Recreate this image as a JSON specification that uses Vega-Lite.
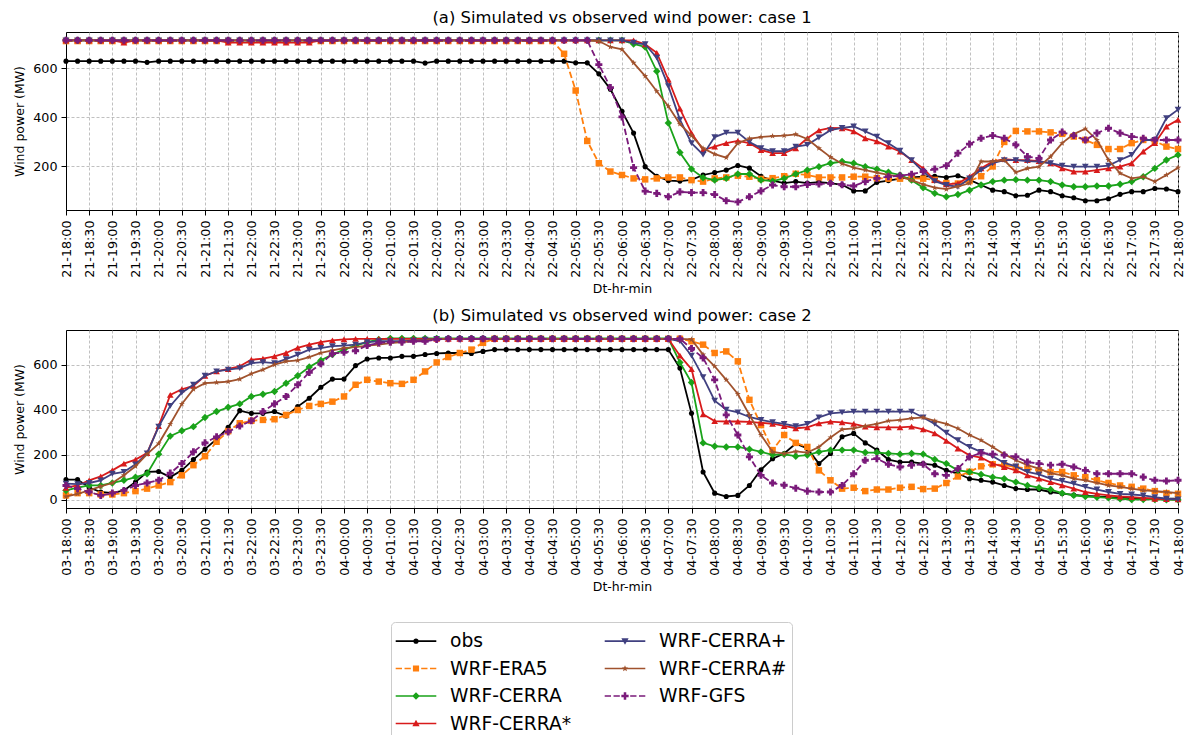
{"$schema":"https://vega.github.io/schema/vega-lite/v6.json","background":"white","padding":{"left":13,"top":9,"right":4,"bottom":0},
"datasets":{"names":[{"k":"o","series":"obs"},{"k":"e","series":"WRF-ERA5"},{"k":"c","series":"WRF-CERRA"},{"k":"s","series":"WRF-CERRA*"},{"k":"q","series":"WRF-CERRA+"},{"k":"h","series":"WRF-CERRA#"},{"k":"g","series":"WRF-GFS"}],
"a":[
{"i":0,"o":630,"e":712,"c":715,"s":715,"q":715,"h":715,"g":715},
{"i":1,"o":630,"e":712,"c":715,"s":715,"q":715,"h":715,"g":715},
{"i":2,"o":630,"e":712,"c":715,"s":715,"q":715,"h":715,"g":715},
{"i":3,"o":630,"e":712,"c":715,"s":715,"q":715,"h":715,"g":715},
{"i":4,"o":630,"e":712,"c":715,"s":715,"q":715,"h":715,"g":715},
{"i":5,"o":630,"e":712,"c":715,"s":706,"q":715,"h":715,"g":715},
{"i":6,"o":630,"e":712,"c":715,"s":715,"q":715,"h":715,"g":715},
{"i":7,"o":625,"e":712,"c":715,"s":715,"q":715,"h":715,"g":715},
{"i":8,"o":630,"e":712,"c":715,"s":715,"q":715,"h":715,"g":715},
{"i":9,"o":630,"e":712,"c":715,"s":715,"q":715,"h":715,"g":715},
{"i":10,"o":630,"e":712,"c":715,"s":715,"q":715,"h":715,"g":715},
{"i":11,"o":630,"e":712,"c":715,"s":715,"q":715,"h":715,"g":715},
{"i":12,"o":630,"e":712,"c":715,"s":715,"q":715,"h":715,"g":715},
{"i":13,"o":630,"e":712,"c":715,"s":715,"q":715,"h":715,"g":715},
{"i":14,"o":630,"e":712,"c":715,"s":706,"q":715,"h":715,"g":715},
{"i":15,"o":630,"e":712,"c":715,"s":706,"q":715,"h":715,"g":715},
{"i":16,"o":630,"e":712,"c":715,"s":706,"q":715,"h":715,"g":715},
{"i":17,"o":630,"e":712,"c":715,"s":706,"q":715,"h":715,"g":715},
{"i":18,"o":630,"e":712,"c":715,"s":706,"q":715,"h":715,"g":715},
{"i":19,"o":630,"e":712,"c":715,"s":706,"q":715,"h":715,"g":715},
{"i":20,"o":630,"e":712,"c":715,"s":706,"q":715,"h":715,"g":715},
{"i":21,"o":630,"e":712,"c":715,"s":706,"q":715,"h":715,"g":715},
{"i":22,"o":630,"e":712,"c":715,"s":715,"q":715,"h":715,"g":715},
{"i":23,"o":630,"e":712,"c":715,"s":715,"q":715,"h":715,"g":715},
{"i":24,"o":630,"e":712,"c":715,"s":715,"q":715,"h":715,"g":715},
{"i":25,"o":630,"e":712,"c":715,"s":715,"q":715,"h":715,"g":715},
{"i":26,"o":630,"e":712,"c":715,"s":715,"q":715,"h":715,"g":715},
{"i":27,"o":630,"e":712,"c":715,"s":715,"q":715,"h":715,"g":715},
{"i":28,"o":630,"e":712,"c":715,"s":715,"q":715,"h":715,"g":715},
{"i":29,"o":630,"e":712,"c":715,"s":715,"q":715,"h":715,"g":715},
{"i":30,"o":630,"e":712,"c":715,"s":715,"q":715,"h":715,"g":715},
{"i":31,"o":622,"e":712,"c":715,"s":715,"q":715,"h":715,"g":715},
{"i":32,"o":630,"e":712,"c":715,"s":715,"q":715,"h":715,"g":715},
{"i":33,"o":630,"e":712,"c":715,"s":715,"q":715,"h":715,"g":715},
{"i":34,"o":630,"e":712,"c":715,"s":715,"q":715,"h":715,"g":715},
{"i":35,"o":630,"e":712,"c":715,"s":715,"q":715,"h":715,"g":715},
{"i":36,"o":630,"e":712,"c":715,"s":715,"q":715,"h":715,"g":715},
{"i":37,"o":630,"e":712,"c":715,"s":715,"q":715,"h":715,"g":715},
{"i":38,"o":630,"e":712,"c":715,"s":715,"q":715,"h":715,"g":715},
{"i":39,"o":630,"e":712,"c":715,"s":715,"q":715,"h":715,"g":715},
{"i":40,"o":630,"e":712,"c":715,"s":715,"q":715,"h":715,"g":715},
{"i":41,"o":630,"e":712,"c":715,"s":715,"q":715,"h":715,"g":715},
{"i":42,"o":630,"e":712,"c":715,"s":715,"q":715,"h":715,"g":715},
{"i":43,"o":630,"e":660,"c":715,"s":715,"q":715,"h":715,"g":715},
{"i":44,"o":623,"e":510,"c":715,"s":715,"q":715,"h":715,"g":715},
{"i":45,"o":623,"e":304,"c":715,"s":715,"q":715,"h":715,"g":715},
{"i":46,"o":578,"e":213,"c":715,"s":715,"q":715,"h":712,"g":616},
{"i":47,"o":515,"e":179,"c":715,"s":715,"q":715,"h":688,"g":522},
{"i":48,"o":425,"e":165,"c":715,"s":715,"q":715,"h":678,"g":402},
{"i":49,"o":336,"e":151,"c":700,"s":715,"q":705,"h":623,"g":195},
{"i":50,"o":199,"e":147,"c":688,"s":699,"q":699,"h":569,"g":99},
{"i":51,"o":160,"e":151,"c":589,"s":664,"q":644,"h":507,"g":90},
{"i":52,"o":142,"e":155,"c":377,"s":555,"q":528,"h":446,"g":76},
{"i":53,"o":140,"e":155,"c":257,"s":436,"q":391,"h":373,"g":96},
{"i":54,"o":145,"e":144,"c":189,"s":336,"q":295,"h":326,"g":93},
{"i":55,"o":165,"e":138,"c":154,"s":267,"q":248,"h":274,"g":93},
{"i":56,"o":175,"e":151,"c":144,"s":281,"q":320,"h":250,"g":85},
{"i":57,"o":185,"e":155,"c":151,"s":295,"q":338,"h":236,"g":60},
{"i":58,"o":204,"e":162,"c":169,"s":304,"q":338,"h":295,"g":55},
{"i":59,"o":193,"e":158,"c":169,"s":295,"q":300,"h":314,"g":76},
{"i":60,"o":160,"e":149,"c":144,"s":267,"q":275,"h":320,"g":100},
{"i":61,"o":142,"e":152,"c":140,"s":254,"q":262,"h":324,"g":124},
{"i":62,"o":132,"e":160,"c":151,"s":254,"q":262,"h":326,"g":117},
{"i":63,"o":138,"e":170,"c":169,"s":274,"q":281,"h":331,"g":117},
{"i":64,"o":132,"e":165,"c":185,"s":315,"q":288,"h":312,"g":126},
{"i":65,"o":136,"e":155,"c":199,"s":347,"q":318,"h":274,"g":128},
{"i":66,"o":132,"e":155,"c":213,"s":357,"q":348,"h":238,"g":131},
{"i":67,"o":125,"e":155,"c":220,"s":356,"q":357,"h":211,"g":125},
{"i":68,"o":100,"e":158,"c":213,"s":343,"q":363,"h":195,"g":120},
{"i":69,"o":100,"e":158,"c":199,"s":315,"q":343,"h":185,"g":138},
{"i":70,"o":135,"e":152,"c":189,"s":302,"q":322,"h":175,"g":151},
{"i":71,"o":142,"e":150,"c":176,"s":281,"q":295,"h":165,"g":158},
{"i":72,"o":150,"e":150,"c":165,"s":261,"q":264,"h":158,"g":162},
{"i":73,"o":155,"e":152,"c":144,"s":226,"q":226,"h":144,"g":168},
{"i":74,"o":158,"e":150,"c":113,"s":192,"q":179,"h":127,"g":179},
{"i":75,"o":160,"e":145,"c":90,"s":144,"q":140,"h":113,"g":189},
{"i":76,"o":155,"e":132,"c":76,"s":127,"q":124,"h":107,"g":203},
{"i":77,"o":162,"e":130,"c":85,"s":131,"q":117,"h":118,"g":254},
{"i":78,"o":145,"e":140,"c":103,"s":158,"q":151,"h":131,"g":291},
{"i":79,"o":124,"e":160,"c":124,"s":192,"q":185,"h":220,"g":315},
{"i":80,"o":103,"e":200,"c":138,"s":220,"q":213,"h":220,"g":326},
{"i":81,"o":97,"e":300,"c":144,"s":230,"q":226,"h":226,"g":315},
{"i":82,"o":80,"e":345,"c":146,"s":226,"q":226,"h":176,"g":288},
{"i":83,"o":82,"e":343,"c":144,"s":226,"q":222,"h":192,"g":240},
{"i":84,"o":103,"e":343,"c":144,"s":222,"q":220,"h":199,"g":233},
{"i":85,"o":97,"e":339,"c":138,"s":213,"q":213,"h":240,"g":308},
{"i":86,"o":80,"e":333,"c":124,"s":192,"q":203,"h":295,"g":340},
{"i":87,"o":72,"e":322,"c":117,"s":179,"q":199,"h":332,"g":326},
{"i":88,"o":60,"e":308,"c":117,"s":179,"q":199,"h":354,"g":308},
{"i":89,"o":60,"e":288,"c":120,"s":185,"q":199,"h":308,"g":336},
{"i":90,"o":68,"e":271,"c":120,"s":192,"q":203,"h":226,"g":356},
{"i":91,"o":86,"e":271,"c":127,"s":199,"q":226,"h":172,"g":336},
{"i":92,"o":97,"e":295,"c":138,"s":213,"q":247,"h":151,"g":322},
{"i":93,"o":97,"e":308,"c":158,"s":261,"q":308,"h":158,"g":315},
{"i":94,"o":110,"e":304,"c":192,"s":295,"q":308,"h":138,"g":308},
{"i":95,"o":108,"e":281,"c":226,"s":363,"q":397,"h":165,"g":308},
{"i":96,"o":97,"e":271,"c":247,"s":390,"q":432,"h":195,"g":308}],
"b":[
{"i":0,"o":90,"e":20,"c":42,"s":54,"q":72,"h":15,"g":64},
{"i":1,"o":90,"e":30,"c":54,"s":64,"q":70,"h":27,"g":50},
{"i":2,"o":55,"e":30,"c":64,"s":87,"q":75,"h":42,"g":35},
{"i":3,"o":35,"e":24,"c":64,"s":104,"q":87,"h":60,"g":20},
{"i":4,"o":30,"e":24,"c":75,"s":131,"q":116,"h":75,"g":30},
{"i":5,"o":42,"e":30,"c":87,"s":161,"q":124,"h":109,"g":42},
{"i":6,"o":79,"e":39,"c":101,"s":179,"q":158,"h":149,"g":64},
{"i":7,"o":124,"e":50,"c":116,"s":208,"q":206,"h":203,"g":75},
{"i":8,"o":126,"e":64,"c":203,"s":328,"q":325,"h":250,"g":87},
{"i":9,"o":101,"e":79,"c":283,"s":466,"q":417,"h":337,"g":119},
{"i":10,"o":131,"e":109,"c":307,"s":491,"q":476,"h":426,"g":161},
{"i":11,"o":179,"e":154,"c":325,"s":506,"q":511,"h":491,"g":213},
{"i":12,"o":225,"e":194,"c":366,"s":551,"q":551,"h":518,"g":253},
{"i":13,"o":270,"e":258,"c":392,"s":570,"q":570,"h":521,"g":280},
{"i":14,"o":322,"e":305,"c":411,"s":581,"q":578,"h":525,"g":302},
{"i":15,"o":396,"e":340,"c":426,"s":593,"q":585,"h":536,"g":328},
{"i":16,"o":384,"e":351,"c":459,"s":622,"q":607,"h":560,"g":351},
{"i":17,"o":384,"e":355,"c":469,"s":627,"q":611,"h":578,"g":392},
{"i":18,"o":392,"e":358,"c":481,"s":637,"q":607,"h":600,"g":426},
{"i":19,"o":372,"e":377,"c":518,"s":652,"q":625,"h":615,"g":459},
{"i":20,"o":414,"e":399,"c":551,"s":675,"q":645,"h":619,"g":511},
{"i":21,"o":451,"e":417,"c":590,"s":689,"q":667,"h":634,"g":566},
{"i":22,"o":500,"e":426,"c":619,"s":700,"q":674,"h":652,"g":604},
{"i":23,"o":536,"e":436,"c":645,"s":708,"q":682,"h":664,"g":649},
{"i":24,"o":536,"e":459,"c":667,"s":712,"q":685,"h":674,"g":655},
{"i":25,"o":596,"e":511,"c":685,"s":715,"q":689,"h":678,"g":662},
{"i":26,"o":625,"e":533,"c":700,"s":715,"q":700,"h":685,"g":685},
{"i":27,"o":630,"e":525,"c":712,"s":715,"q":704,"h":689,"g":697},
{"i":28,"o":630,"e":518,"c":717,"s":715,"q":704,"h":696,"g":700},
{"i":29,"o":637,"e":515,"c":717,"s":715,"q":704,"h":700,"g":700},
{"i":30,"o":637,"e":533,"c":717,"s":715,"q":707,"h":704,"g":704},
{"i":31,"o":645,"e":570,"c":717,"s":715,"q":711,"h":709,"g":704},
{"i":32,"o":650,"e":610,"c":717,"s":715,"q":715,"h":715,"g":712},
{"i":33,"o":652,"e":634,"c":717,"s":715,"q":715,"h":715,"g":715},
{"i":34,"o":652,"e":652,"c":717,"s":715,"q":715,"h":715,"g":715},
{"i":35,"o":650,"e":667,"c":717,"s":715,"q":715,"h":715,"g":715},
{"i":36,"o":659,"e":697,"c":717,"s":715,"q":715,"h":715,"g":715},
{"i":37,"o":667,"e":715,"c":717,"s":715,"q":715,"h":715,"g":715},
{"i":38,"o":667,"e":715,"c":717,"s":715,"q":715,"h":715,"g":715},
{"i":39,"o":667,"e":715,"c":717,"s":715,"q":715,"h":715,"g":715},
{"i":40,"o":667,"e":715,"c":717,"s":715,"q":715,"h":715,"g":715},
{"i":41,"o":667,"e":715,"c":717,"s":715,"q":715,"h":715,"g":715},
{"i":42,"o":667,"e":715,"c":717,"s":715,"q":715,"h":715,"g":715},
{"i":43,"o":667,"e":715,"c":717,"s":715,"q":715,"h":715,"g":715},
{"i":44,"o":667,"e":715,"c":717,"s":715,"q":715,"h":715,"g":715},
{"i":45,"o":667,"e":715,"c":717,"s":715,"q":715,"h":715,"g":715},
{"i":46,"o":667,"e":715,"c":717,"s":715,"q":715,"h":715,"g":715},
{"i":47,"o":667,"e":715,"c":717,"s":715,"q":715,"h":715,"g":715},
{"i":48,"o":667,"e":715,"c":717,"s":715,"q":715,"h":715,"g":715},
{"i":49,"o":667,"e":715,"c":717,"s":715,"q":715,"h":715,"g":715},
{"i":50,"o":667,"e":715,"c":717,"s":715,"q":715,"h":715,"g":715},
{"i":51,"o":667,"e":715,"c":717,"s":715,"q":715,"h":715,"g":715},
{"i":52,"o":667,"e":715,"c":717,"s":715,"q":715,"h":715,"g":715},
{"i":53,"o":585,"e":715,"c":610,"s":640,"q":705,"h":715,"g":715},
{"i":54,"o":384,"e":704,"c":521,"s":580,"q":640,"h":712,"g":672},
{"i":55,"o":124,"e":689,"c":253,"s":380,"q":545,"h":645,"g":630},
{"i":56,"o":30,"e":652,"c":238,"s":350,"q":440,"h":593,"g":533},
{"i":57,"o":15,"e":659,"c":235,"s":348,"q":400,"h":533,"g":377},
{"i":58,"o":20,"e":615,"c":235,"s":348,"q":388,"h":470,"g":288},
{"i":59,"o":64,"e":444,"c":225,"s":346,"q":368,"h":377,"g":191},
{"i":60,"o":134,"e":332,"c":213,"s":342,"q":355,"h":288,"g":109},
{"i":61,"o":183,"e":221,"c":200,"s":338,"q":345,"h":213,"g":75},
{"i":62,"o":206,"e":288,"c":202,"s":328,"q":337,"h":205,"g":65},
{"i":63,"o":250,"e":253,"c":194,"s":318,"q":327,"h":215,"g":52},
{"i":64,"o":228,"e":235,"c":199,"s":322,"q":337,"h":210,"g":39},
{"i":65,"o":161,"e":131,"c":213,"s":340,"q":366,"h":235,"g":35},
{"i":66,"o":206,"e":87,"c":221,"s":347,"q":384,"h":277,"g":35},
{"i":67,"o":280,"e":50,"c":221,"s":344,"q":388,"h":313,"g":64},
{"i":68,"o":295,"e":54,"c":221,"s":337,"q":392,"h":317,"g":116},
{"i":69,"o":253,"e":39,"c":210,"s":325,"q":392,"h":328,"g":176},
{"i":70,"o":221,"e":46,"c":210,"s":322,"q":392,"h":337,"g":183},
{"i":71,"o":179,"e":46,"c":206,"s":322,"q":392,"h":351,"g":158},
{"i":72,"o":168,"e":54,"c":203,"s":322,"q":392,"h":355,"g":146},
{"i":73,"o":168,"e":58,"c":206,"s":325,"q":392,"h":362,"g":154},
{"i":74,"o":161,"e":48,"c":203,"s":313,"q":366,"h":366,"g":158},
{"i":75,"o":154,"e":50,"c":179,"s":295,"q":337,"h":351,"g":116},
{"i":76,"o":131,"e":75,"c":161,"s":262,"q":298,"h":337,"g":109},
{"i":77,"o":117,"e":104,"c":131,"s":228,"q":265,"h":317,"g":139},
{"i":78,"o":94,"e":125,"c":124,"s":198,"q":235,"h":288,"g":191},
{"i":79,"o":87,"e":149,"c":113,"s":188,"q":213,"h":265,"g":208},
{"i":80,"o":79,"e":158,"c":101,"s":161,"q":194,"h":235,"g":203},
{"i":81,"o":64,"e":154,"c":94,"s":146,"q":164,"h":203,"g":199},
{"i":82,"o":50,"e":146,"c":79,"s":131,"q":149,"h":176,"g":191},
{"i":83,"o":46,"e":139,"c":64,"s":109,"q":124,"h":154,"g":168},
{"i":84,"o":46,"e":131,"c":54,"s":94,"q":113,"h":139,"g":161},
{"i":85,"o":35,"e":124,"c":46,"s":79,"q":94,"h":119,"g":154},
{"i":86,"o":28,"e":124,"c":30,"s":64,"q":84,"h":109,"g":158},
{"i":87,"o":22,"e":109,"c":20,"s":50,"q":72,"h":94,"g":146},
{"i":88,"o":18,"e":101,"c":15,"s":35,"q":58,"h":87,"g":131},
{"i":89,"o":15,"e":87,"c":12,"s":27,"q":46,"h":75,"g":116},
{"i":90,"o":12,"e":75,"c":9,"s":20,"q":35,"h":64,"g":116},
{"i":91,"o":10,"e":64,"c":5,"s":15,"q":27,"h":58,"g":116},
{"i":92,"o":8,"e":58,"c":1,"s":12,"q":24,"h":50,"g":116},
{"i":93,"o":6,"e":50,"c":2,"s":9,"q":20,"h":42,"g":101},
{"i":94,"o":5,"e":39,"c":2,"s":5,"q":12,"h":39,"g":87},
{"i":95,"o":5,"e":30,"c":0,"s":3,"q":5,"h":35,"g":84},
{"i":96,"o":5,"e":27,"c":0,"s":2,"q":2,"h":30,"g":87}]},
"spacing":11,
"resolve":{"scale":{"x":"independent","y":"independent","color":"shared","shape":"shared"}},
"vconcat":[
{"data":{"name":"a"},
"transform":[{"fold":["o","e","c","s","q","h","g"],"as":["k","v"]},{"lookup":"k","from":{"data":{"name":"names"},"key":"k","fields":["series"]}}],
"title":{"text":"(a) Simulated vs observed wind power: case 1","fontSize":16.4,"font":"DejaVu Sans","fontWeight":"normal","color":"#000000","anchor":"middle","offset":6},
"width":1112,"height":178,
"encoding":{
"x":{"field":"i","type":"quantitative","title":"Dt-hr-min","scale":{"domain":[0,96],"nice":false,"zero":false},"axis":{"values":[0,2,4,6,8,10,12,14,16,18,20,22,24,26,28,30,32,34,36,38,40,42,44,46,48,50,52,54,56,58,60,62,64,66,68,70,72,74,76,78,80,82,84,86,88,90,92,94,96],"labelExpr":"(datum.value < 24 ? '21-' : '22-') + (floor((datum.value / 4 + 18) % 24) < 10 ? '0' : '') + floor((datum.value / 4 + 18) % 24) + ':' + (datum.value % 4 == 0 ? '00' : '30')","labelAngle":270,"labelOverlap":false,"labelFlush":false,"labelPadding":5,"titlePadding":5,"grid":true}},
"y":{"field":"v","type":"quantitative","title":"Wind power (MW)","scale":{"domain":[22,749],"nice":false,"zero":false},"axis":{"values":[200,400,600],"labelPadding":4,"titlePadding":6,"grid":true}}},
"layer":[
{"transform":[{"filter":"datum.k == 'o'"}],"mark":{"type":"line","color":"#000000","strokeWidth":1.8,"point":{"shape":"circle","filled":true,"opacity":1,"size":26,"color":"#000000"}},"encoding":{}},
{"transform":[{"filter":"datum.k == 'e'"}],"mark":{"type":"line","color":"#ff7f0e","strokeWidth":1.8,"strokeDash":[6.5,3],"point":{"shape":"square","filled":true,"opacity":1,"size":42,"color":"#ff7f0e"}},"encoding":{}},
{"transform":[{"filter":"datum.k == 'c'"}],"mark":{"type":"line","color":"#1aa31a","strokeWidth":1.8,"point":{"shape":"diamond","filled":true,"opacity":1,"size":55,"color":"#1aa31a"}},"encoding":{}},
{"transform":[{"filter":"datum.k == 's'"}],"mark":{"type":"line","color":"#d81b1b","strokeWidth":1.8,"point":{"shape":"triangle-up","filled":true,"opacity":1,"size":45,"color":"#d81b1b"}},"encoding":{}},
{"transform":[{"filter":"datum.k == 'q'"}],"mark":{"type":"line","color":"#404080","strokeWidth":1.8,"point":{"shape":"triangle-down","filled":true,"opacity":1,"size":45,"color":"#404080"}},"encoding":{}},
{"transform":[{"filter":"datum.k == 'h'"}],"mark":{"type":"line","color":"#a0522d","strokeWidth":1.8,"point":{"shape":"M0,-1L0.235,-0.324L0.951,-0.309L0.38,0.124L0.588,0.809L0,0.4L-0.588,0.809L-0.38,0.124L-0.951,-0.309L-0.235,-0.324Z","filled":true,"opacity":1,"size":40,"color":"#a0522d"}},"encoding":{}},
{"transform":[{"filter":"datum.k == 'g'"}],"mark":{"type":"line","color":"#7a1a7a","strokeWidth":1.8,"strokeDash":[6.5,3],"point":{"shape":"cross","filled":true,"opacity":1,"size":50,"color":"#7a1a7a"}},"encoding":{}}]},
{"data":{"name":"b"},
"transform":[{"fold":["o","e","c","s","q","h","g"],"as":["k","v"]},{"lookup":"k","from":{"data":{"name":"names"},"key":"k","fields":["series"]}}],
"title":{"text":"(b) Simulated vs observed wind power: case 2","fontSize":16.4,"font":"DejaVu Sans","fontWeight":"normal","color":"#000000","anchor":"middle","offset":6},
"width":1112,"height":178,
"encoding":{
"x":{"field":"i","type":"quantitative","title":"Dt-hr-min","scale":{"domain":[0,96],"nice":false,"zero":false},"axis":{"values":[0,2,4,6,8,10,12,14,16,18,20,22,24,26,28,30,32,34,36,38,40,42,44,46,48,50,52,54,56,58,60,62,64,66,68,70,72,74,76,78,80,82,84,86,88,90,92,94,96],"labelExpr":"(datum.value < 24 ? '03-' : '04-') + (floor((datum.value / 4 + 18) % 24) < 10 ? '0' : '') + floor((datum.value / 4 + 18) % 24) + ':' + (datum.value % 4 == 0 ? '00' : '30')","labelAngle":270,"labelOverlap":false,"labelFlush":false,"labelPadding":5,"titlePadding":5,"grid":true}},
"y":{"field":"v","type":"quantitative","title":"Wind power (MW)","scale":{"domain":[-36,754],"nice":false,"zero":false},"axis":{"values":[0,200,400,600],"labelPadding":4,"titlePadding":6,"grid":true}}},
"layer":[
{"transform":[{"filter":"datum.k == 'o'"}],"mark":{"type":"line","color":"#000000","strokeWidth":1.8,"point":{"shape":"circle","filled":true,"opacity":1,"size":26,"color":"#000000"}},"encoding":{}},
{"transform":[{"filter":"datum.k == 'e'"}],"mark":{"type":"line","color":"#ff7f0e","strokeWidth":1.8,"strokeDash":[6.5,3],"point":{"shape":"square","filled":true,"opacity":1,"size":42,"color":"#ff7f0e"}},"encoding":{}},
{"transform":[{"filter":"datum.k == 'c'"}],"mark":{"type":"line","color":"#1aa31a","strokeWidth":1.8,"point":{"shape":"diamond","filled":true,"opacity":1,"size":55,"color":"#1aa31a"}},"encoding":{}},
{"transform":[{"filter":"datum.k == 's'"}],"mark":{"type":"line","color":"#d81b1b","strokeWidth":1.8,"point":{"shape":"triangle-up","filled":true,"opacity":1,"size":45,"color":"#d81b1b"}},"encoding":{}},
{"transform":[{"filter":"datum.k == 'q'"}],"mark":{"type":"line","color":"#404080","strokeWidth":1.8,"point":{"shape":"triangle-down","filled":true,"opacity":1,"size":45,"color":"#404080"}},"encoding":{}},
{"transform":[{"filter":"datum.k == 'h'"}],"mark":{"type":"line","color":"#a0522d","strokeWidth":1.8,"point":{"shape":"M0,-1L0.235,-0.324L0.951,-0.309L0.38,0.124L0.588,0.809L0,0.4L-0.588,0.809L-0.38,0.124L-0.951,-0.309L-0.235,-0.324Z","filled":true,"opacity":1,"size":40,"color":"#a0522d"}},"encoding":{}},
{"transform":[{"filter":"datum.k == 'g'"}],"mark":{"type":"line","color":"#7a1a7a","strokeWidth":1.8,"strokeDash":[6.5,3],"point":{"shape":"cross","filled":true,"opacity":1,"size":50,"color":"#7a1a7a"}},"encoding":{}},
{"transform":[{"filter":"datum.v < -1000"}],"mark":{"type":"point","filled":true,"opacity":1},"encoding":{
"color":{"field":"series","type":"nominal","scale":{"domain":["obs","WRF-ERA5","WRF-CERRA","WRF-CERRA*","WRF-CERRA+","WRF-CERRA#","WRF-GFS"],"range":["#000000","#ff7f0e","#1aa31a","#d81b1b","#404080","#a0522d","#7a1a7a"]},
"legend":{"orient":"none","legendX":325,"legendY":590,"columns":2,"title":null,"symbolSize":784,"symbolStrokeWidth":0,"labelFont":"DejaVu Sans","labelFontSize":18.7,"labelColor":"#000000","labelOffset":20,"symbolOffset":6,"columnPadding":32,"rowPadding":3.5,"padding":5,"strokeColor":"#cccccc","cornerRadius":4,"fillColor":"white","labelLimit":400}},
"shape":{"field":"series","type":"nominal","scale":{"domain":["obs","WRF-ERA5","WRF-CERRA","WRF-CERRA*","WRF-CERRA+","WRF-CERRA#","WRF-GFS"],"range":[
"M-1.45,-0.06H1.45V0.06H-1.45Z M0.19,0A0.19,0.19 0 1,1 -0.19,0A0.19,0.19 0 1,1 0.19,0Z",
"M-1.45,-0.06H-1.0V0.06H-1.45Z M-0.82,-0.06H-0.37V0.06H-0.82Z M0.37,-0.06H0.82V0.06H0.37Z M1.0,-0.06H1.45V0.06H1.0Z M-0.22,-0.22H0.22V0.22H-0.22Z",
"M-1.45,-0.06H1.45V0.06H-1.45Z M0,-0.27L0.27,0L0,0.27L-0.27,0Z",
"M-1.45,-0.06H1.45V0.06H-1.45Z M0,-0.26L0.26,0.2L-0.26,0.2Z",
"M-1.45,-0.06H1.45V0.06H-1.45Z M-0.26,-0.2L0.26,-0.2L0,0.26Z",
"M-1.45,-0.06H1.45V0.06H-1.45Z M0,-0.24L0.059,-0.081L0.228,-0.074L0.095,0.031L0.141,0.194L0,0.1L-0.141,0.194L-0.095,0.031L-0.228,-0.074L-0.059,-0.081Z",
"M-1.45,-0.06H-1.0V0.06H-1.45Z M-0.82,-0.06H-0.37V0.06H-0.82Z M0.37,-0.06H0.82V0.06H0.37Z M1.0,-0.06H1.45V0.06H1.0Z M-0.09,-0.26H0.09V-0.09H0.26V0.09H0.09V0.26H-0.09V0.09H-0.26V-0.09H-0.09Z"]},
"legend":{"orient":"none","legendX":325,"legendY":590,"columns":2,"title":null,"symbolSize":784,"symbolStrokeWidth":0,"labelFont":"DejaVu Sans","labelFontSize":18.7,"labelColor":"#000000","labelOffset":20,"symbolOffset":6,"columnPadding":32,"rowPadding":3.5,"padding":5,"strokeColor":"#cccccc","cornerRadius":4,"fillColor":"white","labelLimit":400}}}}]}],
"config":{"font":"DejaVu Sans","view":{"stroke":"#000000","strokeWidth":1},
"axis":{"labelFont":"DejaVu Sans","labelFontSize":12.7,"labelColor":"#000000","titleFont":"DejaVu Sans","titleFontSize":12.5,"titleFontWeight":"normal","titleColor":"#000000","tickColor":"#000000","tickSize":5,"domainColor":"#000000","gridColor":"#b0b0b0","gridDash":[3,2],"gridWidth":0.8,"gridOpacity":1}}}
